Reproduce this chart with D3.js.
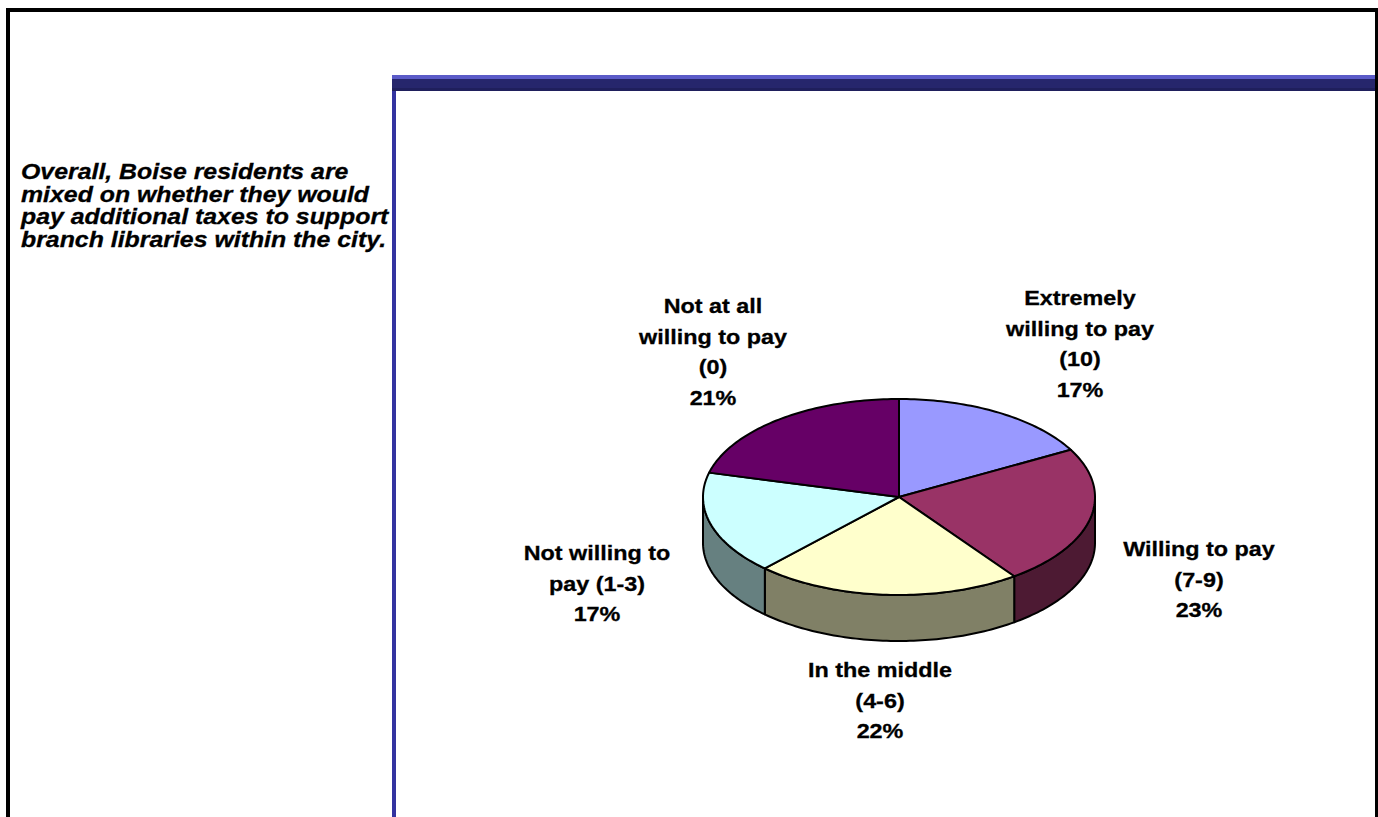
<!DOCTYPE html>
<html>
<head>
<meta charset="utf-8">
<script src="https://cdn.jsdelivr.net/npm/d3@7"></script>
<style>
  html, body { margin: 0; padding: 0; background: #fff; }
  svg { display: block; }
  text { font-family: Arial, "Liberation Sans", sans-serif; font-weight: bold; fill: #000; stroke: #000; stroke-width: 0.3px; }
</style>
</head>
<body>
<svg id="chart" width="1378" height="817"></svg>
<script>
// Willingness to pay additional taxes for branch libraries (share of residents)
const categories = [
  ["Extremely", "willing to pay", "(10)"],
  ["Willing to pay", "(7-9)"],
  ["In the middle", "(4-6)"],
  ["Not willing to", "pay (1-3)"],
  ["Not at all", "willing to pay", "(0)"]
];
const values = [17, 23, 22, 17, 21];
const topColors = ["#9999ff", "#993366", "#ffffcc", "#ccffff", "#660066"];
const sideColors = ["#5c5c99", "#4d1a33", "#808066", "#668080", "#330033"];
const headline = [
  "Overall, Boise residents are",
  "mixed on whether they would",
  "pay additional taxes to support",
  "branch libraries within the city."
];

const svg = d3.select("#chart");

// Slide frame
svg.append("rect").attr("x", 8).attr("y", 10).attr("width", 1369).attr("height", 830)
  .attr("fill", "none").attr("stroke", "#000").attr("stroke-width", 4);

// Header bar of the chart panel
svg.append("rect").attr("x", 392).attr("y", 75).attr("width", 983).attr("height", 4).attr("fill", "#5b5bc8");
svg.append("rect").attr("x", 392).attr("y", 79).attr("width", 983).attr("height", 9).attr("fill", "#26266c");
svg.append("rect").attr("x", 392).attr("y", 88).attr("width", 983).attr("height", 3).attr("fill", "#1f1f5c");
svg.append("rect").attr("x", 392).attr("y", 91).attr("width", 4).attr("height", 740).attr("fill", "#3333a0");

// Headline text on the left
const head = svg.append("g").attr("transform", "translate(21,0)");
headline.forEach((line, i) => {
  head.append("text")
    .attr("transform", `translate(0,${179 + i * 22.7}) scale(1.13,1)`)
    .style("font-style", "italic")
    .style("font-size", "22px")
    .text(line);
});

// 3D pie
const cx = 899, cy = 497, rx = 196, ry = 98, depth = 46;
const pie = d3.pie().sort(null).value(d => d)(values);
const px = a => cx + rx * Math.sin(a);
const py = a => cy - ry * Math.cos(a);

function arcPoints(a0, a1, dy) {
  const n = Math.max(2, Math.ceil(Math.abs(a1 - a0) / 0.02));
  const pts = [];
  for (let i = 0; i <= n; i++) {
    const a = a0 + (a1 - a0) * i / n;
    pts.push([px(a), py(a) + dy]);
  }
  return pts;
}

const line = d3.line();
const front0 = Math.PI / 2, front1 = Math.PI * 3 / 2;

// side walls (only the front-facing half is visible)
pie.forEach((s, i) => {
  const a0 = Math.max(s.startAngle, front0), a1 = Math.min(s.endAngle, front1);
  if (a1 <= a0) return;
  const pts = arcPoints(a0, a1, 0).concat(arcPoints(a1, a0, depth));
  svg.append("path").attr("d", line(pts) + "Z")
    .attr("fill", sideColors[i]).attr("stroke", "#000").attr("stroke-width", 2)
    .attr("stroke-linejoin", "round");
});

// top faces
pie.forEach((s, i) => {
  const pts = [[cx, cy]].concat(arcPoints(s.startAngle, s.endAngle, 0));
  svg.append("path").attr("d", line(pts) + "Z")
    .attr("fill", topColors[i]).attr("stroke", "#000").attr("stroke-width", 2)
    .attr("stroke-linejoin", "round");
});

// Data labels
const labelPos = [
  [1080, 305], [1199, 556], [880, 677], [597, 560], [713, 313]
];
const lineGap = 30.5;
pie.forEach((s, i) => {
  const lines = categories[i].concat([values[i] + "%"]);
  const g = svg.append("g");
  lines.forEach((t, j) => {
    g.append("text")
      .attr("transform", `translate(${labelPos[i][0]},${labelPos[i][1] + j * lineGap}) scale(1.14,1)`)
      .attr("text-anchor", "middle")
      .style("font-size", "20.5px")
      .text(t);
  });
});
</script>
</body>
</html>
